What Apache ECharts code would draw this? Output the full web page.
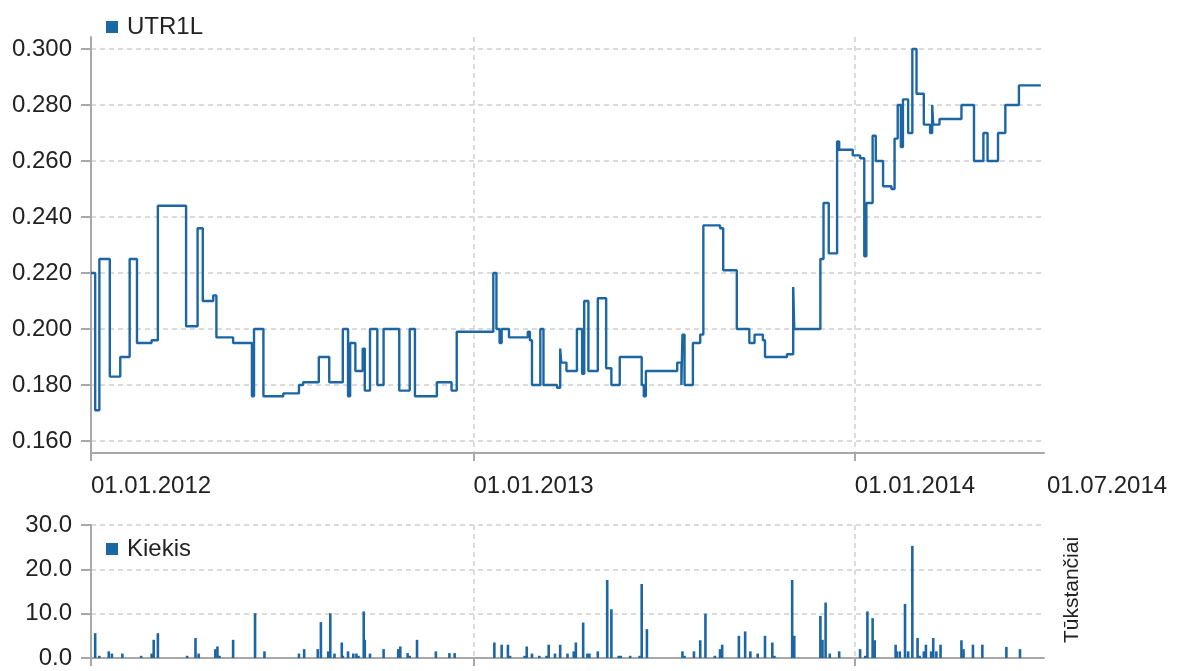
<!DOCTYPE html>
<html>
<head>
<meta charset="utf-8">
<script src="https://cdn.jsdelivr.net/npm/echarts@6/dist/echarts.min.js"></script>
<style>html,body{margin:0;padding:0;background:#fff;}#c{width:1180px;height:671px;}</style>
</head>
<body>
<div id="c"></div>
<script>
// ---- data ----
const priceName = 'UTR1L';
const volumeName = 'Kiekis';
const volumeUnit = 'Tūkstančiai';

const priceDates = [
 '2012-01-01','2012-01-05','2012-01-09','2012-01-19','2012-01-29','2012-02-07','2012-02-14','2012-02-28',
 '2012-03-05','2012-04-01','2012-04-12','2012-04-17','2012-04-27','2012-04-30','2012-05-16','2012-06-03',
 '2012-06-05','2012-06-14','2012-07-03','2012-07-18','2012-07-22','2012-08-06','2012-08-16','2012-08-29',
 '2012-09-03','2012-09-05','2012-09-10','2012-09-17','2012-09-19','2012-09-24','2012-10-01','2012-10-07',
 '2012-10-22','2012-11-01','2012-11-06','2012-11-27','2012-12-11','2012-12-16',
 '2013-01-20','2013-01-23','2013-01-26','2013-01-28','2013-02-04','2013-02-22','2013-02-24','2013-02-26',
 '2013-03-06','2013-03-09','2013-03-22','2013-03-25','2013-03-26','2013-03-31','2013-04-10','2013-04-15',
 '2013-04-17','2013-04-21','2013-04-30','2013-05-08','2013-05-13','2013-05-21','2013-06-11','2013-06-13',
 '2013-06-15','2013-07-15','2013-07-19','2013-07-20','2013-07-22','2013-07-30','2013-08-06','2013-08-09',
 '2013-08-25','2013-08-28','2013-09-10','2013-09-22','2013-09-27','2013-10-05','2013-10-07','2013-10-28',
 '2013-11-03','2013-11-04','2013-11-29','2013-12-02','2013-12-07','2013-12-15','2013-12-17','2013-12-30',
 '2014-01-06','2014-01-10','2014-01-12','2014-01-18','2014-01-21','2014-01-28','2014-02-05','2014-02-08',
 '2014-02-11','2014-02-14','2014-02-16','2014-02-21','2014-02-25','2014-03-01','2014-03-08','2014-03-14',
 '2014-03-16','2014-03-17','2014-03-23','2014-04-13','2014-04-25','2014-05-04','2014-05-08','2014-05-18',
 '2014-05-25','2014-06-07','2014-06-28'
];
const priceValues = [
 0.220,0.171,0.225,0.183,0.190,0.225,0.195,0.196,
 0.244,0.201,0.236,0.210,0.212,0.197,0.195,0.176,
 0.200,0.176,0.177,0.180,0.181,0.190,0.181,0.200,
 0.176,0.195,0.185,0.193,0.178,0.200,0.180,0.200,
 0.178,0.200,0.176,0.181,0.178,0.199,
 0.220,0.200,0.195,0.200,0.197,0.199,0.196,0.180,
 0.200,0.180,0.179,0.193,0.188,0.185,0.200,0.184,
 0.210,0.185,0.211,0.186,0.180,0.190,0.180,0.176,
 0.185,0.188,0.180,0.198,0.180,0.195,0.198,0.237,
 0.236,0.221,0.200,0.195,0.198,0.196,0.190,0.191,
 0.215,0.200,0.225,0.245,0.227,0.267,0.264,0.262,
 0.261,0.226,0.245,0.269,0.260,0.251,0.250,0.268,
 0.280,0.265,0.282,0.270,0.300,0.284,0.273,0.270,
 0.280,0.273,0.275,0.280,0.260,0.270,0.260,0.270,
 0.280,0.287,0.287
];

const volumeDates = [
 '2012-01-05','2012-01-09','2012-01-18','2012-01-21','2012-01-31','2012-02-18','2012-02-28','2012-03-01',
 '2012-03-05','2012-04-02','2012-04-10','2012-04-13','2012-04-29','2012-05-01','2012-05-03','2012-05-16',
 '2012-06-06','2012-06-15','2012-07-18','2012-07-23','2012-08-05','2012-08-08','2012-08-15','2012-08-17',
 '2012-08-21','2012-08-28','2012-08-29','2012-09-03','2012-09-08','2012-09-11','2012-09-13','2012-09-18',
 '2012-09-19','2012-09-24','2012-10-07','2012-10-21','2012-10-23','2012-10-30','2012-11-01','2012-11-08',
 '2012-11-26','2012-12-09','2012-12-14',
 '2013-01-21','2013-01-28','2013-02-03','2013-02-05','2013-02-19','2013-02-21','2013-02-26','2013-03-05',
 '2013-03-12','2013-03-14','2013-03-20','2013-03-25','2013-04-01','2013-04-07','2013-04-09','2013-04-16',
 '2013-04-20','2013-04-22','2013-04-30','2013-05-09','2013-05-13','2013-05-20','2013-05-22','2013-05-31',
 '2013-06-09','2013-06-11','2013-06-16','2013-07-20','2013-07-22','2013-07-31','2013-08-06','2013-08-11',
 '2013-08-20','2013-08-25','2013-08-27','2013-09-12','2013-09-18','2013-09-23','2013-09-30','2013-10-07',
 '2013-10-14','2013-10-16','2013-11-02','2013-11-04','2013-11-29','2013-12-01','2013-12-04','2013-12-08',
 '2013-12-17',
 '2014-01-06','2014-01-11','2014-01-13','2014-01-18','2014-01-20','2014-02-09','2014-02-10','2014-02-13',
 '2014-02-18','2014-02-21','2014-02-25','2014-03-02','2014-03-04','2014-03-08','2014-03-10','2014-03-15',
 '2014-03-17','2014-03-20','2014-03-24','2014-04-13','2014-04-15','2014-04-24','2014-05-03','2014-05-26',
 '2014-06-08'
];
const volumeValues = [
 5.6,0.5,1.5,1.0,1.0,0.5,1.0,4.1,
 5.6,0.5,4.5,1.0,2.0,2.6,0.5,4.1,
 10.1,1.5,1.0,2.0,2.0,8.1,1.5,10.1,
 1.0,3.5,0.5,1.5,1.0,1.0,0.5,10.5,
 4.1,1.0,2.0,2.0,2.6,1.1,0.5,4.1,
 1.5,1.1,1.1,
 3.5,3.0,3.0,0.5,0.5,2.6,1.0,0.5,
 0.5,3.0,1.0,3.0,1.0,1.5,3.5,8.0,
 1.0,1.0,1.5,17.6,11.0,0.5,0.5,0.5,
 0.5,16.7,6.5,1.5,0.5,1.5,4.0,10.0,
 0.5,2.0,3.0,5.0,6.0,1.5,1.0,5.0,
 3.5,0.5,17.6,5.0,9.5,4.1,12.5,1.0,
 1.5,
 2.0,0.5,10.5,9.0,4.0,3.0,1.5,1.5,
 12.2,1.5,25.3,4.5,0.5,1.5,3.0,1.5,
 4.5,1.5,3.0,4.0,2.0,3.0,3.0,2.5,
 2.0
];

const xTickDates = ['2012-01-01','2013-01-01','2014-01-01','2014-07-01'];
const xTickLabels = ['01.01.2012','01.01.2013','01.01.2014','01.07.2014'];
const priceTicks = [0.16,0.18,0.20,0.22,0.24,0.26,0.28,0.30];
const volumeTicks = [0,10,20,30];

// ---- chart ----
const FONT = '"Liberation Sans", Arial, sans-serif';
const BLUE = '#1c66a3';
const AXIS = '#a8a8a8';
const GRIDC = '#cfcfcf';
const TXT = '#222';
const FS = 24;

const ts = d => Date.UTC(+d.slice(0, 4), +d.slice(5, 7) - 1, +d.slice(8, 10));
const xMin = ts('2012-01-01');
const xMax = ts('2014-07-01');
const xTicks = xTickDates.map(ts);

const priceData = priceDates.map((d, i) => [ts(d), priceValues[i]]);
const volumeData = volumeDates.map((d, i) => [ts(d), volumeValues[i]]);

const chart = echarts.init(document.getElementById('c'), null, {renderer: 'canvas'});

function xAxisCfg(gridIndex, showLabels) {
  return {
    type: 'value', gridIndex, min: xMin, max: xMax, scale: true,
    axisLine: {show: true, onZero: false, lineStyle: {color: AXIS, width: 2}},
    axisTick: {show: true, length: 8, lineStyle: {color: AXIS, width: 2}, customValues: xTicks.slice(0, 3)},
    splitLine: {show: true, lineStyle: {color: GRIDC, type: [5, 4], width: 1.5}},
    axisLabel: {
      show: showLabels, customValues: xTicks, align: 'left', margin: 21,
      fontFamily: FONT, fontSize: FS, color: TXT,
      formatter: function (v) {
        const i = xTicks.indexOf(v);
        if (i === xTicks.length - 1) return '{e|' + xTickLabels[i] + '}';
        return i >= 0 ? xTickLabels[i] : '';
      },
      rich: {e: {fontFamily: FONT, fontSize: FS, color: TXT, padding: [0, 0, 0, 3]}}
    }
  };
}

const option = {
  animation: false,
  backgroundColor: '#fff',
  textStyle: {fontFamily: FONT},
  grid: [
    {left: 91, right: 136, top: 37, height: 416, containLabel: false},
    {left: 91, right: 136, top: 525, height: 133, containLabel: false}
  ],
  legend: [
    {data: [priceName], left: 101, top: 10, icon: 'rect', itemWidth: 12, itemHeight: 12,
     textStyle: {fontSize: FS, color: TXT, fontFamily: FONT, padding: [0, 0, 0, 4]}, selectedMode: false},
    {data: [volumeName], left: 101, top: 532, icon: 'rect', itemWidth: 12, itemHeight: 12,
     textStyle: {fontSize: FS, color: TXT, fontFamily: FONT, padding: [0, 0, 0, 4]}, selectedMode: false}
  ],
  xAxis: [xAxisCfg(0, true), xAxisCfg(1, false)],
  yAxis: [
    {
      type: 'value', gridIndex: 0, min: 0.16 - 12 / 2800, max: 0.30 + 12 / 2800,
      axisLine: {show: true, lineStyle: {color: AXIS, width: 2}},
      axisTick: {show: true, length: 10, lineStyle: {color: AXIS, width: 2}, customValues: priceTicks},
      splitLine: {show: true, lineStyle: {color: GRIDC, type: [5, 4], width: 1.5}},
      axisLabel: {customValues: priceTicks, margin: 19, fontFamily: FONT, fontSize: FS, color: TXT,
        formatter: v => v.toFixed(3)}
    },
    {
      type: 'value', gridIndex: 1, min: 0, max: 30, interval: 10,
      axisLine: {show: true, lineStyle: {color: AXIS, width: 2}},
      axisTick: {show: true, length: 10, lineStyle: {color: AXIS, width: 2}, customValues: volumeTicks},
      splitLine: {show: true, lineStyle: {color: GRIDC, type: [5, 4], width: 1.5}},
      axisLabel: {customValues: volumeTicks, margin: 19, fontFamily: FONT, fontSize: FS, color: TXT,
        formatter: v => v.toFixed(1)}
    }
  ],
  graphic: [
    {type: 'text', x: 1072, y: 590, rotation: Math.PI / 2,
     style: {text: volumeUnit, fontFamily: FONT, fontSize: 21, fill: TXT, align: 'center', verticalAlign: 'middle'}}
  ],
  series: [
    {
      name: priceName, type: 'line', xAxisIndex: 0, yAxisIndex: 0, step: 'end',
      showSymbol: false, symbol: 'none', data: priceData,
      itemStyle: {color: BLUE}, lineStyle: {color: BLUE, width: 2.4}
    },
    {
      name: volumeName, type: 'bar', xAxisIndex: 1, yAxisIndex: 1, barWidth: 2.6,
      data: volumeData, itemStyle: {color: BLUE}
    }
  ]
};
chart.setOption(option);
</script>
</body>
</html>
